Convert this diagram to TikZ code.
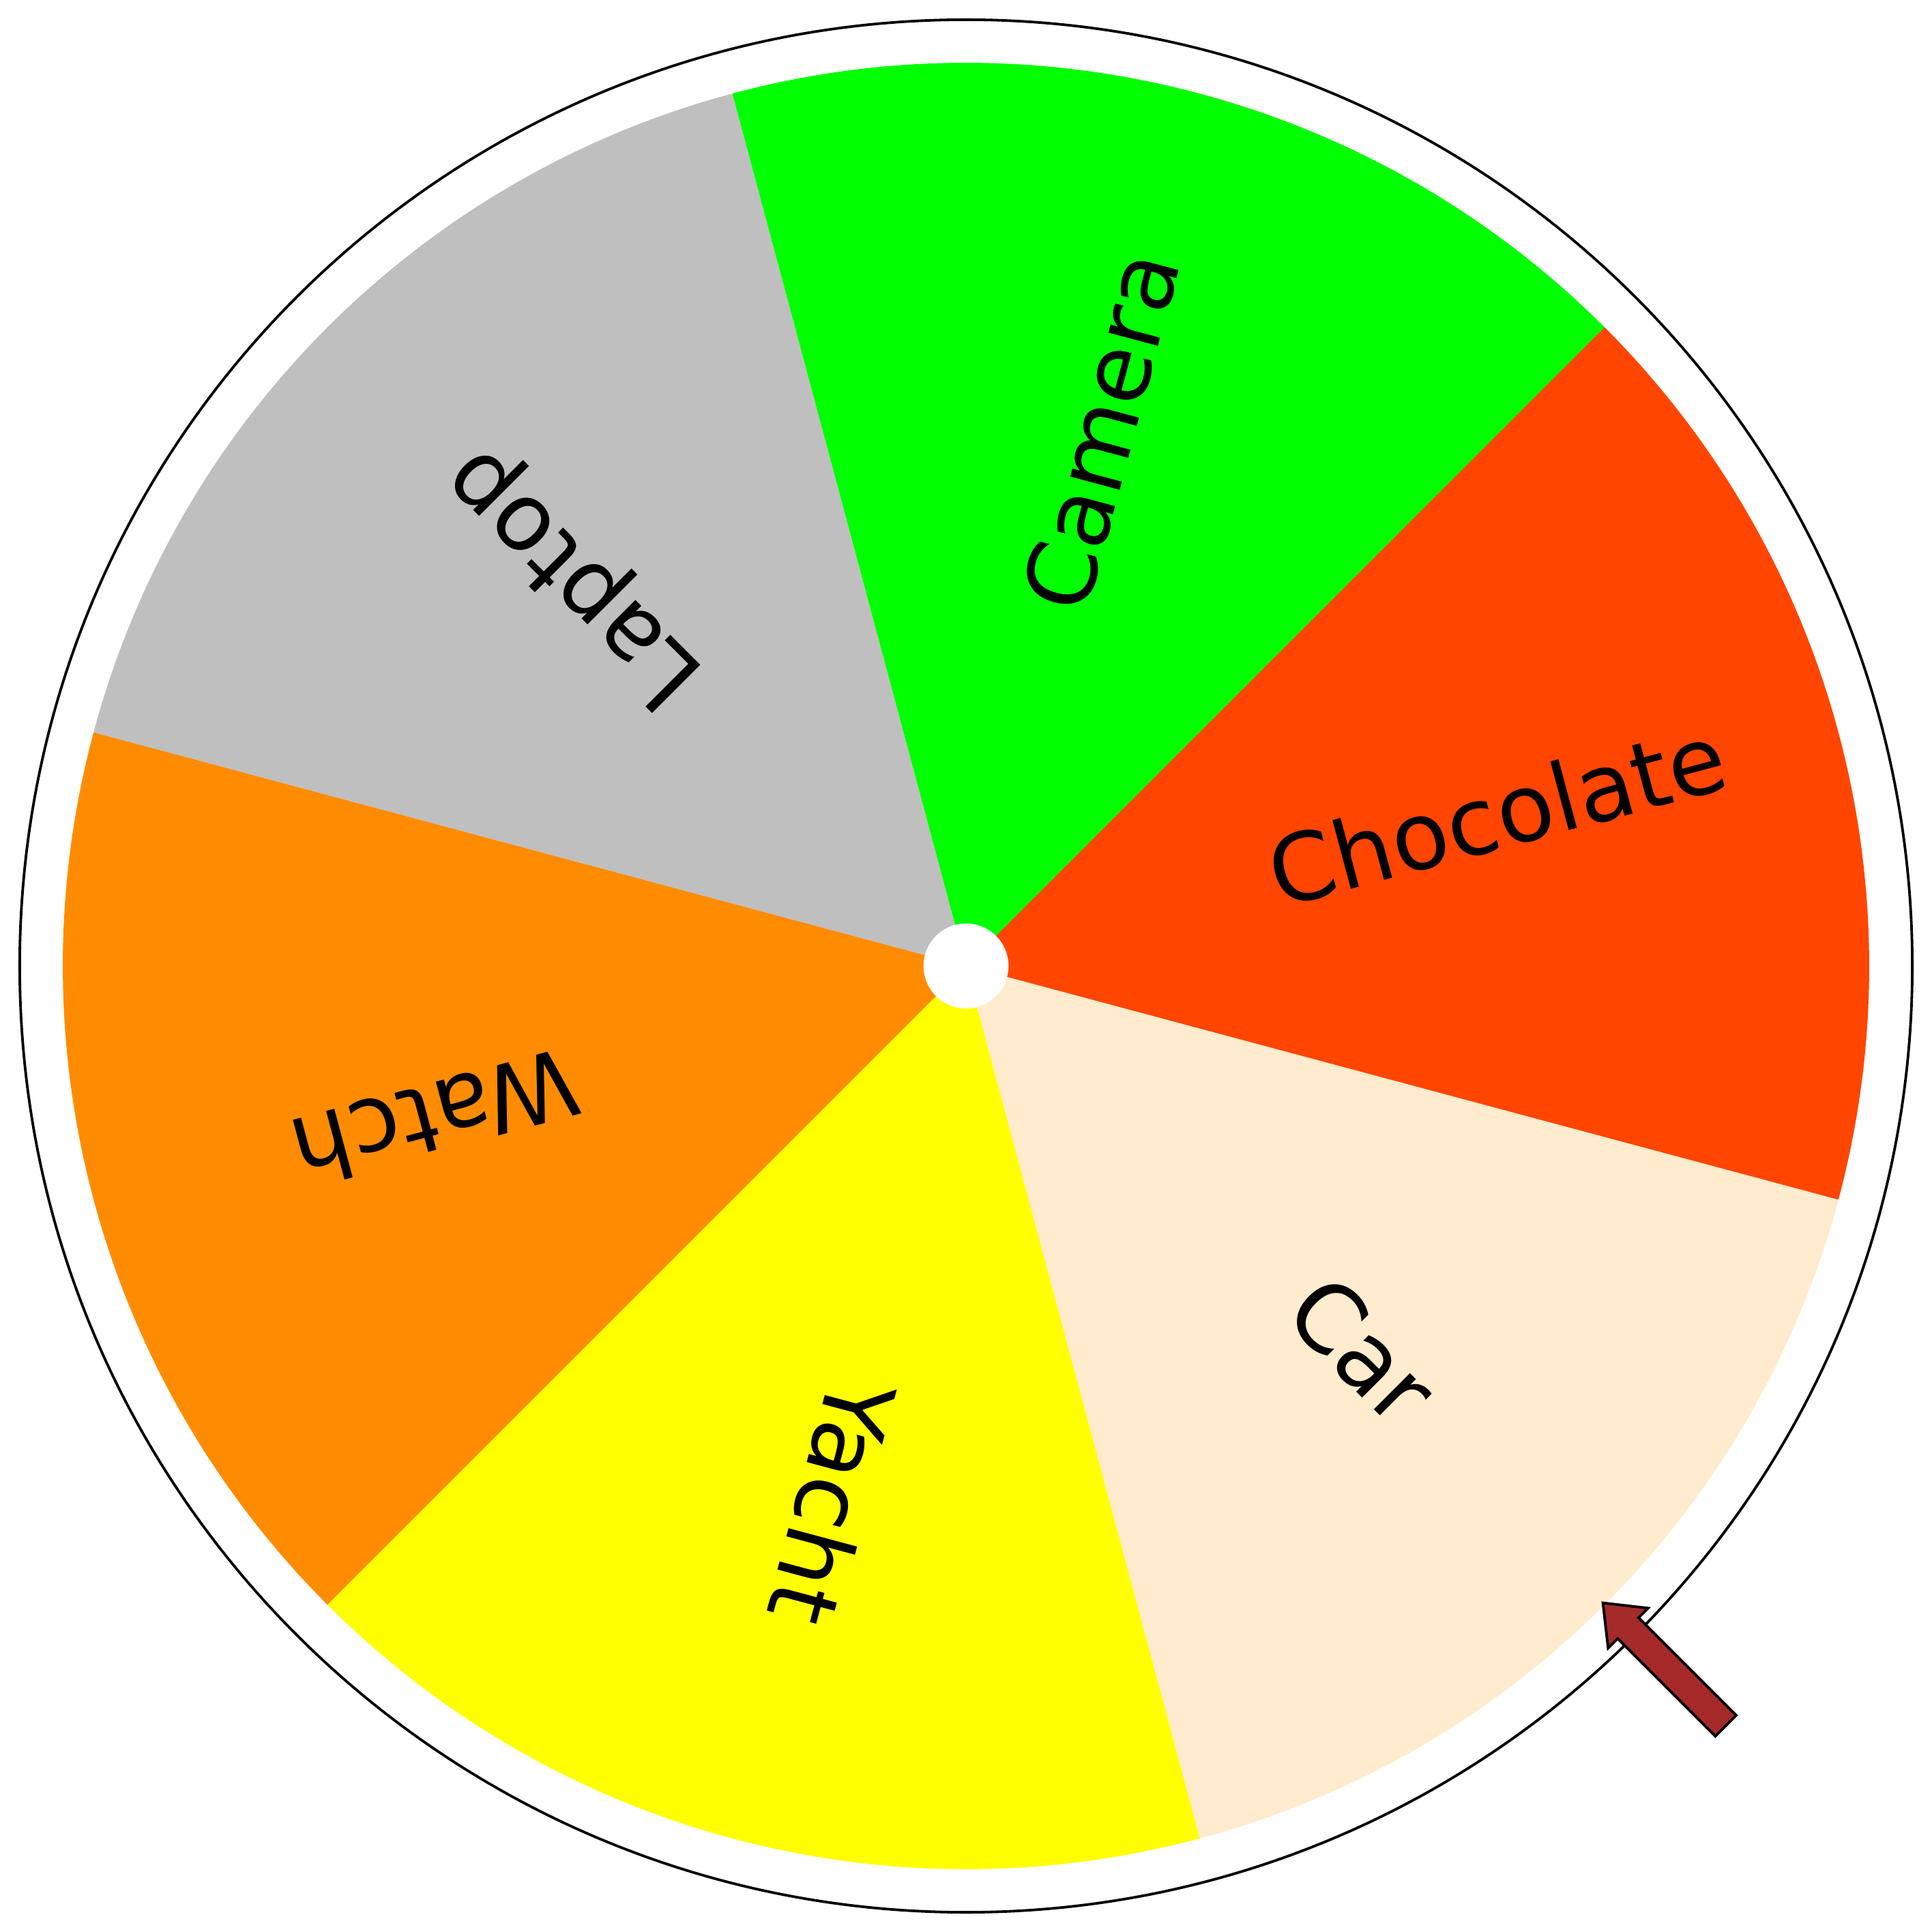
\documentclass[tikz,border=0pt]{standalone}
\usepackage{fontspec}
\setmainfont{DejaVu Sans}
\usetikzlibrary{calc}
\definecolor{lime}{HTML}{00FF00}
\definecolor{orangered}{HTML}{FF4500}
\definecolor{almond}{HTML}{FFEBCD}
\definecolor{sunyellow}{HTML}{FFFF00}
\definecolor{darkorange}{HTML}{FF8C00}
\definecolor{silver}{HTML}{BFBFBF}
\definecolor{pointer}{HTML}{A52A2A}
\tikzset{
  prize/.style={font=\fontsize{21.6}{26}\selectfont, inner sep=0pt, anchor=base},
}
\begin{document}
\begin{tikzpicture}
\useasboundingbox (-7.84,-7.84) rectangle (7.84,7.84);
% Draw outer rim
\draw[line width=0.6pt] (0,0) circle (7.68);

% Draw sectors and prizes
\foreach \a/\col/\lab in {45/lime/Camera, -15/orangered/Chocolate, -75/almond/Car,
   -135/sunyellow/Yacht, 165/darkorange/Watch, 105/silver/Laptop} {
   \pgfmathsetmacro{\m}{\a+30}
   \fill[\col] (0,0) -- (\a:7.33) arc[start angle=\a, delta angle=60, radius=7.33] -- cycle;
   \node[prize, rotate=\m] (\lab) at ($(\m:4.48)+(\m-90:0.205)$) {\lab};
}

% Draw hub
\fill[white] (0,0) circle (0.345);

% Draw pointer
\draw[fill=pointer, line width=0.6pt, line join=miter, rotate=-45]
   (7.31,0) -- (7.60,0.23) -- (7.60,0.12) -- (8.72,0.12) --
   (8.72,-0.12) -- (7.60,-0.12) -- (7.60,-0.23) -- cycle;
\end{tikzpicture}
\end{document}
